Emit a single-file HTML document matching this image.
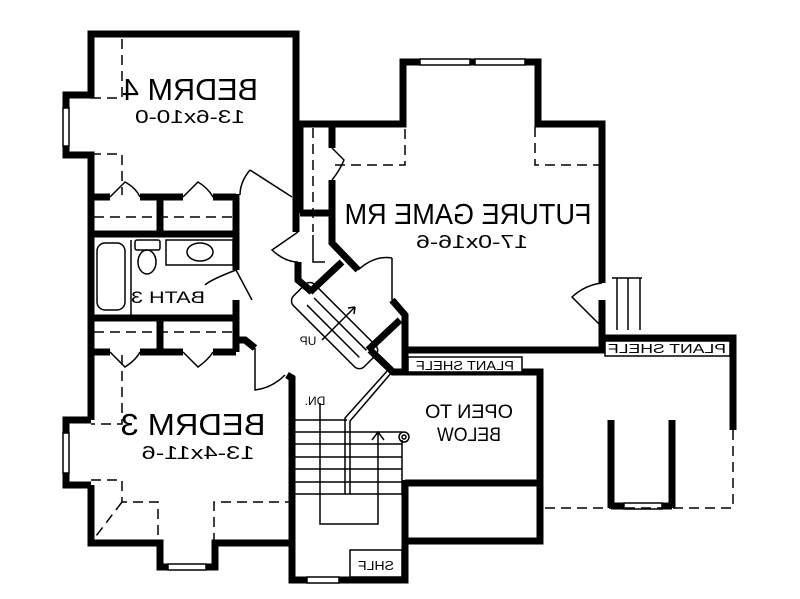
<!DOCTYPE html>
<html><head><style>html,body{margin:0;padding:0;background:#fff}svg{display:block}</style></head><body>
<svg width="800" height="599" viewBox="0 0 800 599" xmlns="http://www.w3.org/2000/svg" font-family="Liberation Sans, sans-serif">
<rect width="800" height="599" fill="#fff"/>
<g fill="none" stroke="#000" stroke-width="7" stroke-linejoin="miter">
<polyline points="296,232 296,34 91,34 91,95 66,95 66,155 91,155 91,420"/>
<polyline points="91,485 91,543 160,543 160,567 215,567 215,543 292,543"/>
<polyline points="91,420 66,420 66,485 91,485"/>
<line x1="91" y1="197" x2="110" y2="197"/><line x1="140" y1="197" x2="183" y2="197"/><line x1="213" y1="197" x2="236" y2="197"/>
<line x1="236" y1="194" x2="236" y2="270"/><line x1="160" y1="197" x2="160" y2="234"/>
<line x1="91" y1="234" x2="236" y2="234"/>
<line x1="91" y1="318" x2="236" y2="318"/>
<line x1="236" y1="300" x2="236" y2="352"/><line x1="160" y1="318" x2="160" y2="352"/>
<line x1="91" y1="352" x2="110" y2="352"/><line x1="140" y1="352" x2="183" y2="352"/><line x1="213" y1="352" x2="236" y2="352"/>
<polyline points="236,340 245,340 255,348"/>
<polyline points="296,124 403,124 403,62 538,62 538,124 602,124 602,283"/>
<line x1="300" y1="124" x2="300" y2="213"/>
<line x1="300" y1="213" x2="332" y2="213"/>
<polyline points="332,124 332,148"/><polyline points="332,180 332,243 358,270"/>
<polyline points="298,262 298,280 312,292"/>
<line x1="310" y1="292" x2="342" y2="262"/>
<line x1="368" y1="350" x2="400" y2="320"/>
<polyline points="370,350 393,372 405,372"/>
<polyline points="392,300 405,315 405,372"/>
<polyline points="405,350 602,350 602,300"/>
<polyline points="602,338 733,338 733,430"/>
<polyline points="287,375 292,378 292,580 405,580 405,480"/>
<polyline points="405,372 540,372 540,541 405,541"/>
<line x1="405" y1="483" x2="540" y2="483"/>
<line x1="611" y1="420" x2="611" y2="508"/><line x1="672" y1="420" x2="672" y2="508"/>
<line x1="611" y1="506" x2="672" y2="506"/>
</g>
<g fill="#fff" stroke="#000" stroke-width="1.5">
<rect x="63" y="108" width="6" height="38"/><rect x="63" y="433" width="6" height="40"/>
<rect x="168" y="564" width="38" height="6"/><rect x="307" y="577" width="32" height="6"/>
<rect x="420" y="59" width="50" height="6"/><rect x="475" y="59" width="50" height="6"/>
<rect x="624" y="503" width="38" height="6"/>
<rect x="408" y="357" width="114" height="15"/><rect x="605" y="341" width="125" height="15"/>
<rect x="350" y="550" width="52" height="27"/>
</g>
<g fill="none" stroke="#000" stroke-width="1.5" stroke-dasharray="10,6">
<polyline points="91,98 122,98 122,38"/><polyline points="91,154 122,154 122,195"/>
<line x1="94" y1="217" x2="234" y2="217"/><line x1="94" y1="332" x2="234" y2="332"/>
<polyline points="122,355 122,424 91,424"/><polyline points="91,480 122,480 122,502 158,502 158,543"/>
<line x1="122" y1="502" x2="93" y2="540"/><polyline points="214,543 214,502 290,502"/>
<polyline points="335,165 405,165 405,127"/><polyline points="535,127 535,165 600,165"/>
<line x1="313" y1="128" x2="313" y2="232"/>
<polyline points="733,430 733,508 540,508"/>
</g>
<g fill="none" stroke="#000" stroke-width="1.5">
<path d="M110,197 L125,182 Q136,188 140,197"/><path d="M183,197 L198,182 Q208,188 213,197"/>
<path d="M250,170 L292,197 M250,170 Q240,182 240,195"/>
<path d="M110,352 L125,367 Q136,360 140,352"/><path d="M183,352 L198,367 Q208,360 213,352"/>
<path d="M236,270 L252,300 M236,270 Q210,280 205,285"/>
<path d="M255,348 L255,390 Q272,388 285,375"/>
<path d="M332,148 L344,160 Q340,170 332,180"/>
<path d="M298,232 L272,250 Q285,262 298,262"/>
<path d="M392,258 L392,300 M358,270 Q375,255 392,258"/>
<polyline points="313,235 313,262 325,262"/>
<path d="M602,283 Q585,285 572,297 L600,325"/>
<line x1="617" y1="278" x2="617" y2="330"/><line x1="628" y1="278" x2="628" y2="330"/><line x1="640" y1="278" x2="640" y2="330"/>
<line x1="612" y1="278" x2="642" y2="278"/>
<rect x="97" y="243" width="28" height="67" rx="8"/><line x1="131" y1="240" x2="131" y2="315"/>
<rect x="135" y="240" width="25" height="10" rx="2"/><ellipse cx="147" cy="262" rx="9" ry="12"/>
<rect x="166" y="240" width="67" height="25"/><ellipse cx="200" cy="252" rx="13" ry="9"/>
<g transform="translate(336,327) rotate(45)">
<rect x="-52" y="-15" width="100" height="30" rx="7"/>
<line x1="-36" y1="-5" x2="38" y2="-5"/><line x1="-36" y1="5" x2="38" y2="5"/>
</g>
<path d="M322,340 L355,307 M355,307 l-7,1 M355,307 l-1,7"/>
<line x1="295" y1="420" x2="347" y2="420"/><line x1="295" y1="432" x2="402" y2="432"/>
<line x1="295" y1="444" x2="402" y2="444"/><line x1="295" y1="457" x2="402" y2="457"/>
<line x1="295" y1="469" x2="402" y2="469"/><line x1="295" y1="482" x2="402" y2="482"/>
<line x1="295" y1="494" x2="402" y2="494"/>
<polyline points="320,403 320,524 378,524 378,432"/>
<path d="M372,440 L378,432 L384,440"/>
<path d="M388,370 L345,418 L345,494 M392,372 L350,421 L350,494"/>
<line x1="402" y1="440" x2="402" y2="494"/><circle cx="404" cy="437" r="5"/><circle cx="404" cy="437" r="2"/>
</g>
<g fill="#000" text-anchor="middle">
<text transform="translate(190,100) scale(-1,1)" font-size="31" textLength="136" lengthAdjust="spacingAndGlyphs">BEDRM 4</text>
<text transform="translate(190,123) scale(-1,1)" font-size="18" textLength="110" lengthAdjust="spacingAndGlyphs">13-6x10-0</text>
<text transform="translate(468,224) scale(-1,1)" font-size="29" textLength="247" lengthAdjust="spacingAndGlyphs">FUTURE GAME RM</text>
<text transform="translate(472,248) scale(-1,1)" font-size="18" textLength="112" lengthAdjust="spacingAndGlyphs">17-0x16-6</text>
<text transform="translate(168,303) scale(-1,1)" font-size="17" textLength="74" lengthAdjust="spacingAndGlyphs">BATH 3</text>
<text transform="translate(193,435) scale(-1,1)" font-size="31" textLength="145" lengthAdjust="spacingAndGlyphs">BEDRM 3</text>
<text transform="translate(198,459) scale(-1,1)" font-size="18" textLength="113" lengthAdjust="spacingAndGlyphs">13-4x11-6</text>
<text transform="translate(469,418) scale(-1,1)" font-size="19" textLength="88" lengthAdjust="spacingAndGlyphs">OPEN TO</text>
<text transform="translate(469,441) scale(-1,1)" font-size="19" textLength="64" lengthAdjust="spacingAndGlyphs">BELOW</text>
<text transform="translate(465,370) scale(-1,1)" font-size="13" textLength="98" lengthAdjust="spacingAndGlyphs">PLANT SHELF</text>
<text transform="translate(667,353) scale(-1,1)" font-size="13" textLength="118" lengthAdjust="spacingAndGlyphs">PLANT SHELF</text>
<text transform="translate(308,345) scale(-1,1)" font-size="12">UP</text>
<text transform="translate(315,405) scale(-1,1)" font-size="12">DN.</text>
<text transform="translate(376,570) scale(-1,1)" font-size="13" textLength="36" lengthAdjust="spacingAndGlyphs">SHLF</text>
</g>
</svg>
</body></html>
